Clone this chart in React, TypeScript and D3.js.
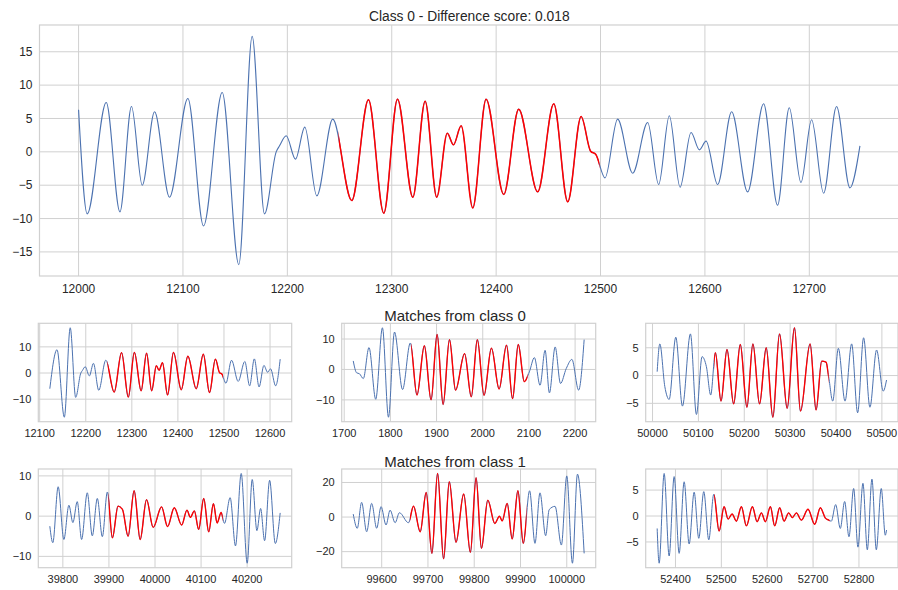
import React, { useRef, useEffect } from "react";
import * as d3 from "d3";

type Pt = [number, number];

// extrema (and a few shoulder points): [x, value]
const mainSeries: Pt[] = [
  [12000, 6.3], [12008.3, -9.3], [12026.5, 7.4], [12039.6, -9.0], [12050.7, 6.8],
  [12061, -5.0], [12072.8, 6.0], [12087.1, -6.8], [12104.7, 8.0], [12119.7, -11.1],
  [12137.6, 8.9], [12153.5, -16.9], [12166.3, 17.3], [12178.1, -9.3], [12189.3, 0],
  [12192.5, 0.9], [12198.9, 2.4], [12207.8, -1.1], [12216.7, 3.7], [12228.2, -6.6],
  [12243.5, 4.9], [12261.7, -7.3], [12277.7, 7.8], [12292.4, -9.2], [12305.5, 7.9],
  [12320.2, -6.8], [12332, 7.6], [12343.1, -6.8], [12353.2, 2.8], [12359.1, 1.05],
  [12366.5, 3.9], [12377.6, -8.4], [12390.4, 7.9], [12407.3, -6.4], [12421.6, 6.4],
  [12439.8, -6.0], [12455.2, 7.2], [12468.6, -7.5], [12481.4, 5.3], [12490.5, 0.1],
  [12495.5, -0.4], [12504.3, -3.9], [12516.4, 4.9], [12530.8, -3.2], [12545.2, 4.4],
  [12555.7, -4.9], [12565.9, 5.4], [12576.2, -5.3], [12586.7, 2.9], [12594.7, 0.3],
  [12601.1, 1.6], [12612.2, -4.9], [12625.6, 6.0], [12640.9, -6.0], [12656.2, 7.2],
  [12669.6, -8.0], [12680.8, 6.6], [12692, -4.6], [12702.2, 4.8], [12713.7, -6.2],
  [12726.1, 6.8], [12738.9, -5.4], [12748.5, 0.9],
];
const mainRed: Pt = [12249, 12499];
const mainXTicks = [12000, 12100, 12200, 12300, 12400, 12500, 12600, 12700];
const mainYTicks = [-15, -10, -5, 0, 5, 10, 15];

// class 0 match a: same series, window 12122..12622
const match0aSeries: Pt[] = [
  [12122, -6],
  ...mainSeries.filter((d) => d[0] > 12124 && d[0] < 12620),
  [12622, 5.3],
];
const match0aRed: Pt = [12247, 12498];
const match0aXTicks = [12100, 12200, 12300, 12400, 12500, 12600];
const match0aYTicks = [-10, 0, 10];

const match0bSeries: Pt[] = [
  [1719.6, 2.8], [1726.9, -1.1], [1733, -1.4], [1741.4, -3.0], [1753.7, 7.2],
  [1768.3, -9.8], [1782.8, 13.7], [1795.9, -15.7], [1808.9, 12.3], [1826.4, -6.6],
  [1843.1, 8.7], [1857.6, -8.4], [1873.6, 7.8], [1888.1, -10], [1901.2, 11.5],
  [1914.2, -11.5], [1928, 9.8], [1941.1, -6.8], [1960.7, 5.2], [1975.2, -9.0],
  [1988.3, 9.8], [2002.8, -8.5], [2018.8, 7.0], [2035.5, -6.4], [2051.5, 8.0],
  [2064.6, -9.6], [2076.9, 8.2], [2090, -4.0], [2100.9, -0.8], [2111.8, 3.9],
  [2124.1, -5.2], [2135, 6.3], [2144.4, -7.7], [2156.8, 7.4], [2168.4, -4.6],
  [2180.8, 0.3], [2193.1, 3.3], [2207.6, -6.8], [2219.6, 9.8],
];
const match0bRed: Pt = [1845, 2097];
const match0bXTicks = [1700, 1800, 1900, 2000, 2100, 2200];
const match0bYTicks = [-10, 0, 10];

const match0cSeries: Pt[] = [
  [50010.1, 0.7], [50015.9, 5.7], [50026.8, -2.0], [50036.2, -4.3], [50050.7, 6.9],
  [50065.2, -5.5], [50082.6, 7.5], [50095.7, -7.0], [50108, 3.4], [50117.4, 1.6],
  [50126.8, -3.5], [50137, 4.1], [50149.3, -4.6], [50162.3, 4.7], [50176.8, -5.1],
  [50191.3, 5.6], [50205.8, -5.7], [50218.8, 5.7], [50233.3, -5.1], [50247.8, 5.0],
  [50262.3, -7.5], [50276.8, 7.5], [50293.5, -5.9], [50309.4, 8.6], [50322.5, -6.4],
  [50343.5, 5.7], [50356.5, -6.2], [50368.8, 2.6], [50378.3, 2.4], [50384, -0.2],
  [50392.8, -4.6], [50405.1, 4.9], [50419.6, -4.6], [50434.1, 5.7], [50447.1, -6.7],
  [50460.1, 6.8], [50473.9, -5.7], [50488.4, 4.6], [50502.9, -2.8], [50510.1, -0.8],
];
const match0cRed: Pt = [50134, 50384];
const match0cXTicks = [50000, 50100, 50200, 50300, 50400, 50500];
const match0cYTicks = [-5, 0, 5];

const match1aSeries: Pt[] = [
  [39771.7, -2.5], [39778.2, -6.6], [39789.8, 7.3], [39802.2, -5.8], [39813.1, 2.7],
  [39821.8, -1.6], [39831.2, 3.6], [39840.7, -5.8], [39853, 5.8], [39863.9, -4.9],
  [39874.8, 4.4], [39885.7, -5.1], [39896.6, 6.0], [39907.5, -5.4], [39919.8, 2.5],
  [39929.3, 1.7], [39941.6, -5.0], [39954.7, 6.3], [39967.8, -5.8], [39981.6, 4.1],
  [39996.1, -2.8], [40014.2, 2.3], [40027.3, -2.6], [40041.8, 2.1], [40057.8, -2.2],
  [40069.4, 1.5], [40076.7, -0.3], [40085.4, 1.3], [40094.8, -3.3], [40105.7, 4.4],
  [40116.6, -3.9], [40126.8, 3.1], [40134.8, -1.7], [40143.5, 0.9], [40150.8, -1.8],
  [40163.1, 4.6], [40174.7, -7.4], [40187.1, 10.6], [40200.1, -11.7], [40211, 9.1],
  [40221.2, -3.6], [40229.2, 1.9], [40237.9, -6.1], [40248.8, 8.9], [40261.1, -6.8],
  [40271.7, 0.8],
];
const match1aRed: Pt = [39899, 40147];
const match1aXTicks = [39800, 39900, 40000, 40100, 40200];
const match1aYTicks = [-10, 0, 10];

const match1bSeries: Pt[] = [
  [99538.5, 1.7], [99547.2, -6.5], [99556.6, 8.5], [99567.5, -8.5], [99578.3, 7.9],
  [99589.2, -6.5], [99598.6, 6.0], [99609.4, -4.6], [99618.1, 4.0], [99629, -3.3],
  [99638.3, 2.5], [99657.9, -3.3], [99668.7, 6.3], [99683.2, -8.5], [99696.2, 14.2],
  [99708.5, -21.0], [99720.8, 25.2], [99733.8, -24.2], [99746.1, 20.4], [99760.6, -14.6],
  [99777.2, 13.3], [99791.7, -20.4], [99804, 22.7], [99815.6, -18.1], [99829.3, 9.8],
  [99844.5, -3.7], [99854.6, 0.5], [99860.4, -2.3], [99871.2, 7.9], [99882.1, -12.7],
  [99894.4, 15.2], [99906, -15.2], [99919.7, 15.2], [99931.3, -15.2], [99942.1, 14.0],
  [99954.4, -10.8], [99962, 4.3], [99974.7, 6.2], [99988.4, -16.2], [100000, 23.8],
  [100012.3, -26.7], [100023.1, 24.8], [100037.6, -21.0],
];
const match1bRed: Pt = [99661, 99913];
const match1bXTicks = [99600, 99700, 99800, 99900, 100000];
const match1bYTicks = [-20, 0, 20];

const match1cSeries: Pt[] = [
  [52360.1, -2.4], [52364.4, -9.1], [52375.3, 8.2], [52386.2, -7.7], [52397.1, 7.6],
  [52408, -7.2], [52418.9, 6.6], [52429.8, -5.4], [52440.7, 4.6], [52450.8, -4.3],
  [52461.7, 4.7], [52472.6, -4.6], [52483.5, 4.2], [52495.1, -2.9], [52506, 1.8],
  [52514.7, -0.6], [52523.4, 0.4], [52532.8, -1.0], [52543.7, 1.8], [52554.6, -1.9],
  [52567.7, 1.8], [52577.9, -1.1], [52587.3, 0.6], [52596, -1.1], [52606.9, 1.8],
  [52616.3, -1.9], [52627.2, 1.6], [52636.7, -1.0], [52646.8, 0.6], [52654.8, -0.3],
  [52663.5, 0.6], [52674.4, -0.8], [52688.9, 1.3], [52703.5, -1.6], [52715.8, 1.6],
  [52726.7, -0.4], [52734.7, -0.8], [52739.7, -1.0], [52749.2, 2.2], [52759.3, -2.4],
  [52768.8, 2.8], [52778.2, -4.0], [52788.4, 5.3], [52797.8, -6.0], [52808.7, 6.3],
  [52818.2, -6.5], [52828.3, 7.1], [52837.8, -6.5], [52848.6, 5.3], [52857.4, -3.7],
  [52860.1, -2.7],
];
const match1cRed: Pt = [52484, 52736];
const match1cXTicks = [52400, 52500, 52600, 52700, 52800];
const match1cYTicks = [-5, 0, 5];

const FONT = "'Liberation Sans', Arial, sans-serif";
const TEXT = "#262626";
const GRID = "#d0d0d0";
const BLUE = "#4c72b0";
const RED = "#ff0000";

const App = () => {
  const container = useRef<SVGSVGElement>(null);

  useEffect(() => {
    createChart();
  });

  const drawPanel = (svg: any, p: any) => {
    const [x0, x1] = d3.extent(p.series, (d: Pt) => d[0]) as [number, number];
    const [y0, y1] = d3.extent(p.series, (d: Pt) => d[1]) as [number, number];
    const xpad = (x1 - x0) * 0.05;
    const ypad = (y1 - y0) * 0.05;

    const xScale = d3.scaleLinear().domain([x0 - xpad, x1 + xpad]).range([p.box.l, p.box.r]);
    const yScale = d3.scaleLinear().domain([y0 - ypad, y1 + ypad]).range([p.box.b, p.box.t]);

    const g = svg.append("g").attr("class", "panel-" + p.id);

    g.selectAll(".vgrid")
      .data(p.xTicks)
      .join("line")
      .attr("class", "vgrid")
      .attr("x1", (d: number) => xScale(d))
      .attr("x2", (d: number) => xScale(d))
      .attr("y1", p.box.t)
      .attr("y2", p.box.b)
      .attr("stroke", GRID)
      .attr("stroke-width", 1);

    g.selectAll(".hgrid")
      .data(p.yTicks)
      .join("line")
      .attr("class", "hgrid")
      .attr("x1", p.box.l)
      .attr("x2", p.box.r)
      .attr("y1", (d: number) => yScale(d))
      .attr("y2", (d: number) => yScale(d))
      .attr("stroke", GRID)
      .attr("stroke-width", 1);

    g.append("rect")
      .attr("x", p.box.l)
      .attr("y", p.box.t)
      .attr("width", p.box.r - p.box.l)
      .attr("height", p.box.b - p.box.t)
      .attr("fill", "none")
      .attr("stroke", GRID)
      .attr("stroke-width", 1.2);

    const line = d3
      .line<Pt>()
      .x((d) => xScale(d[0]))
      .y((d) => yScale(d[1]))
      .curve(d3.curveMonotoneX);

    g.append("path")
      .datum(p.series)
      .attr("d", line)
      .attr("fill", "none")
      .attr("stroke", BLUE)
      .attr("stroke-width", p.lw);

    // red = the matched window, same curve clipped to its x range
    svg
      .append("clipPath")
      .attr("id", "clip-" + p.id)
      .append("rect")
      .attr("x", xScale(p.red[0]))
      .attr("y", 0)
      .attr("width", xScale(p.red[1]) - xScale(p.red[0]))
      .attr("height", 590);

    g.append("path")
      .datum(p.series)
      .attr("d", line)
      .attr("fill", "none")
      .attr("stroke", RED)
      .attr("stroke-width", p.lw + 0.4)
      .attr("clip-path", `url(#clip-${p.id})`);

    const fmt = d3.format("d");

    g.selectAll(".xlab")
      .data(p.xTicks)
      .join("text")
      .attr("class", "xlab")
      .attr("x", (d: number) => xScale(d))
      .attr("y", p.box.b + p.xOff)
      .attr("text-anchor", "middle")
      .attr("font-family", FONT)
      .attr("font-size", p.fs)
      .attr("fill", TEXT)
      .text((d: number) => fmt(d));

    g.selectAll(".ylab")
      .data(p.yTicks)
      .join("text")
      .attr("class", "ylab")
      .attr("x", p.box.l - 7)
      .attr("y", (d: number) => yScale(d))
      .attr("dy", "0.35em")
      .attr("text-anchor", "end")
      .attr("font-family", FONT)
      .attr("font-size", p.fs)
      .attr("fill", TEXT)
      .text((d: number) => fmt(d));
  };

  const createChart = () => {
    const svg = d3.select(container.current);
    svg.selectAll("*").remove();

    const cols = [
      { l: 38.3, r: 291.7 },
      { l: 341.7, r: 595.7 },
      { l: 645.7, r: 898 },
    ];
    const row1 = { t: 323.3, b: 421.7 };
    const row2 = { t: 469, b: 567.7 };

    drawPanel(svg, {
      id: "main",
      box: { l: 39.5, r: 899, t: 25, b: 276 },
      series: mainSeries, red: mainRed, xTicks: mainXTicks, yTicks: mainYTicks,
      fs: 12, xOff: 17, lw: 1.1,
    });

    const small = [
      [match0aSeries, match0aRed, match0aXTicks, match0aYTicks],
      [match0bSeries, match0bRed, match0bXTicks, match0bYTicks],
      [match0cSeries, match0cRed, match0cXTicks, match0cYTicks],
      [match1aSeries, match1aRed, match1aXTicks, match1aYTicks],
      [match1bSeries, match1bRed, match1bXTicks, match1bYTicks],
      [match1cSeries, match1cRed, match1cXTicks, match1cYTicks],
    ];

    small.forEach((s, i) => {
      const col = cols[i % 3];
      const row = i < 3 ? row1 : row2;
      drawPanel(svg, {
        id: "m" + i,
        box: { l: col.l, r: col.r, t: row.t, b: row.b },
        series: s[0], red: s[1], xTicks: s[2], yTicks: s[3],
        fs: 11, xOff: 15.6, lw: 1,
      });
    });

    svg.append("text")
      .attr("x", 469.3)
      .attr("y", 20.7)
      .attr("text-anchor", "middle")
      .attr("font-family", FONT)
      .attr("font-size", 13.8)
      .attr("fill", TEXT)
      .text("Class 0 - Difference score: 0.018");

    svg.append("text")
      .attr("x", 455)
      .attr("y", 320.7)
      .attr("text-anchor", "middle")
      .attr("font-family", FONT)
      .attr("font-size", 15)
      .attr("fill", TEXT)
      .text("Matches from class 0");

    svg.append("text")
      .attr("x", 455)
      .attr("y", 466.7)
      .attr("text-anchor", "middle")
      .attr("font-family", FONT)
      .attr("font-size", 15)
      .attr("fill", TEXT)
      .text("Matches from class 1");
  };

  return (
    <svg
      ref={container}
      width={898}
      height={590}
      style={{ position: "absolute", left: 0, top: 0, background: "#fff" }}
    />
  );
};

export default App;
